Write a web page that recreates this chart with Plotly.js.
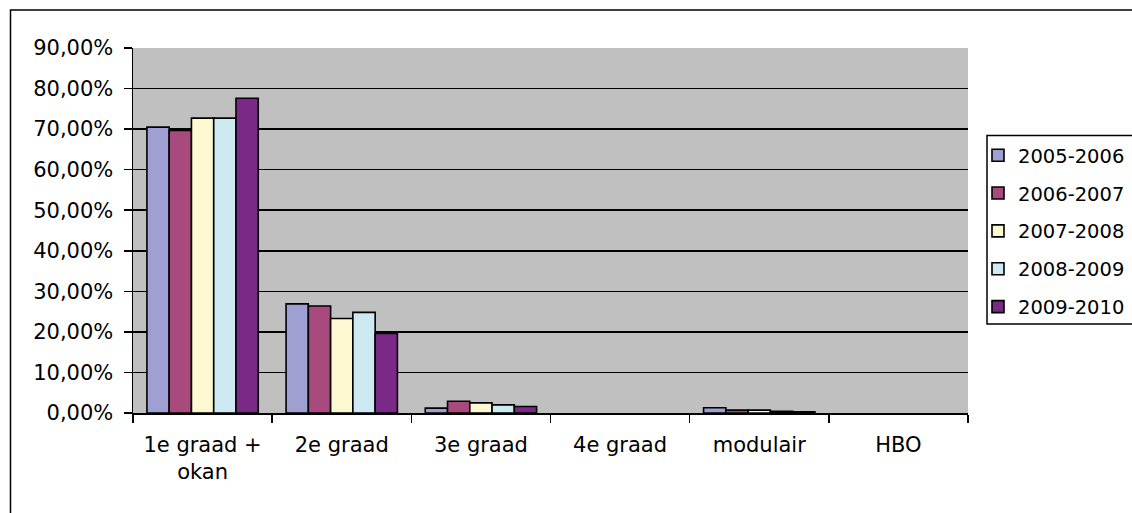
<!DOCTYPE html>
<html>
<head>
<meta charset="utf-8">
<script src="https://cdn.plot.ly/plotly-3.0.1.min.js"></script>
<style>html,body{margin:0;padding:0;background:#fff;}#chart{width:1132px;height:513px;}</style>
</head>
<body>
<div id="chart"></div>
<script>
const categories = ["1e graad +<br>okan", "2e graad", "3e graad", "4e graad", "modulair", "HBO"];
const seriesNames = ["2005-2006", "2006-2007", "2007-2008", "2008-2009", "2009-2010"];
const v2005_2006 = [70.5, 26.9, 1.2, 0, 1.3, 0];
const v2006_2007 = [69.7, 26.4, 2.9, 0, 0.7, 0];
const v2007_2008 = [72.7, 23.3, 2.5, 0, 0.7, 0];
const v2008_2009 = [72.7, 24.8, 2.0, 0, 0.4, 0];
const v2009_2010 = [77.6, 19.6, 1.6, 0, 0.3, 0];
const seriesValues = [v2005_2006, v2006_2007, v2007_2008, v2008_2009, v2009_2010];
const colors = ["#9f9fd1", "#a84a7e", "#fcf8d2", "#cde9f1", "#7a2a86"];
const yTickVals = [0, 10, 20, 30, 40, 50, 60, 70, 80, 90];
const yTickText = yTickVals.map(v => v.toFixed(2).replace(".", ",") + "%");

const FONT = "'DejaVu Sans', Arial, sans-serif";
const traces = seriesNames.map((n, i) => ({
  type: "bar",
  name: n,
  x: categories,
  y: seriesValues[i],
  legendgroup: "g" + i,
  marker: {
    color: colors[i],
    line: {color: "#000", width: seriesValues[i].map(v => v === 0 ? 0 : 1.6)}
  },
  hoverinfo: "skip"
}));

const L = 133, R = 968, T = 48, B = 413, W = 1132, H = 513;
const pw = R - L, ph = B - T;
const px = v => (v - L) / pw;
const py = v => (B - v) / ph;

const layout = {
  width: W, height: H,
  margin: {l: L, r: W - R, t: T, b: H - B, pad: 0, autoexpand: false},
  paper_bgcolor: "#ffffff",
  plot_bgcolor: "#c0c0c0",
  font: {family: FONT, size: 21, color: "#000"},
  barmode: "group",
  bargap: 0.2,
  bargroupgap: 0,
  showlegend: true,
  legend: {
    x: px(978), y: py(136), xanchor: "left", yanchor: "top",
    bgcolor: "rgba(0,0,0,0)", borderwidth: 0,
    font: {family: FONT, size: 19.5, color: "#000"},
    tracegroupgap: 9.5,
    itemwidth: 30
  },
  xaxis: {
    type: "category",
    showgrid: false,
    showline: true, linecolor: "#000", linewidth: 1.5,
    ticks: "outside", tickson: "boundaries", ticklen: 8, tickcolor: "#000", tickwidth: 1.5,
    ticklabelstandoff: 12,
    tickfont: {family: FONT, size: 21, color: "#000"},
    fixedrange: true
  },
  yaxis: {
    range: [0, 90],
    tickvals: yTickVals,
    ticktext: yTickText,
    showgrid: true, gridcolor: "#000", gridwidth: 1.5,
    zeroline: false,
    showline: true, linecolor: "#000", linewidth: 1.5,
    ticks: "outside", ticklen: 8, tickcolor: "#000", tickwidth: 1.5,
    ticklabelstandoff: 6,
    tickfont: {family: FONT, size: 21, color: "#000"},
    fixedrange: true
  },
  shapes: [
    {
      type: "rect", xref: "paper", yref: "paper", layer: "below",
      x0: px(10.5), x1: px(1150), y0: py(540), y1: py(10),
      line: {color: "#000", width: 1.5}, fillcolor: "rgba(0,0,0,0)"
    },
    {
      type: "rect", xref: "paper", yref: "paper", layer: "below",
      x0: px(987), x1: px(1150), y0: py(324), y1: py(135.5),
      line: {color: "#000", width: 1.5}, fillcolor: "#ffffff"
    }
  ]
};

Plotly.newPlot("chart", traces, layout, {displayModeBar: false, staticPlot: true});
</script>
</body>
</html>
